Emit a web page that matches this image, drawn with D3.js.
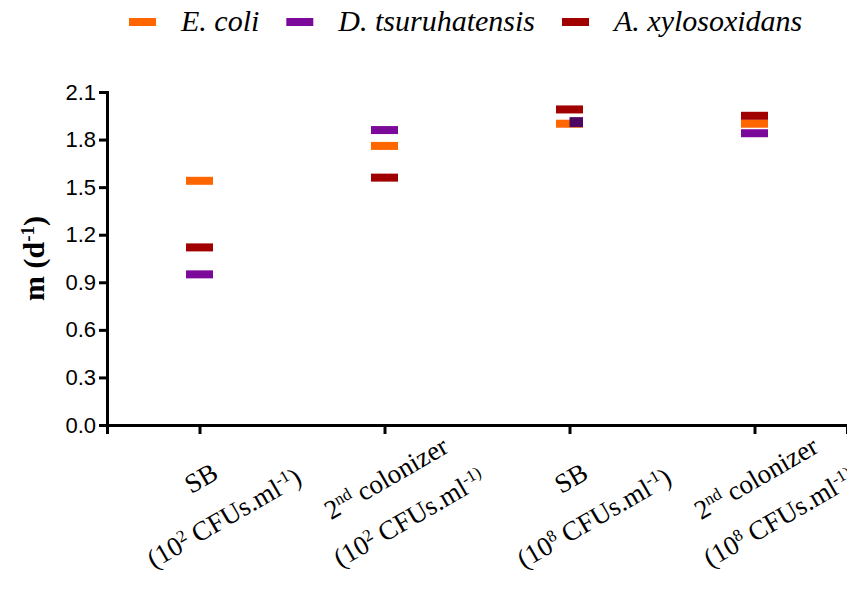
<!DOCTYPE html>
<html>
<head>
<meta charset="utf-8">
<script src="https://cdn.jsdelivr.net/npm/d3@7"></script>
<style>
  body { margin: 0; background: #fff; }
  svg { display: block; }
</style>
</head>
<body>
<div id="chart"></div>
<script>
// groups on the x axis: [line1 parts, line2 parts], each part [text, isSuperscript]
const groups = [
    [[["SB", false]], [["(10", false], ["2", true], [" CFUs.ml", false], ["-1", true], [")", false]]],
    [[["2", false], ["nd", true], [" colonizer", false]], [["(10", false], ["2", true], [" CFUs.ml", false], ["-1)", true]]],
    [[["SB", false]], [["(10", false], ["8", true], [" CFUs.ml", false], ["-1", true], [")", false]]],
    [[["2", false], ["nd", true], [" colonizer", false]], [["(10", false], ["8", true], [" CFUs.ml", false], ["-1)", true]]]
]
const seriesNames = ["E. coli", "D. tsuruhatensis", "A. xylosoxidans"]
const seriesColors = ["#ff6600", "#7b0a9b", "#a00000"]
const ecoli = [1.54, 1.76, 1.90, 1.90]
const dtsur = [0.95, 1.86, 1.91, 1.84]
const axylo = [1.12, 1.56, 1.99, 1.95]
const yTicks = [0, 0.3, 0.6, 0.9, 1.2, 1.5, 1.8, 2.1]

const allSeries = [ecoli, dtsur, axylo]

const width = 847, height = 590
const plot = {left: 107, right: 847, top: 92, bottom: 425}

const svg = d3.select('#chart').append('svg')
    .attr('width', width)
    .attr('height', height)

const x = d3.scalePoint()
    .domain(d3.range(groups.length))
    .range([plot.left, plot.right])
    .padding(0.5)

const y = d3.scaleLinear()
    .domain([0, 2.1])
    .range([plot.bottom, plot.top])

// y axis
const yAxis = svg.append('g')
    .attr('transform', `translate(${plot.left},0)`)
    .call(d3.axisLeft(y).tickValues(yTicks).tickFormat(d3.format('.1f')).tickSizeOuter(0).tickSize(8).tickPadding(3))
yAxis.select('.domain').attr('stroke', '#000').attr('stroke-width', 3)
yAxis.selectAll('.tick line').attr('stroke', '#000').attr('stroke-width', 3)
yAxis.selectAll('.tick text')
    .attr('fill', '#000')
    .style('font-family', '"Liberation Sans", Arial, sans-serif')
    .style('font-size', '22px')

// x axis
const xAxis = svg.append('g')
    .attr('transform', `translate(0,${plot.bottom})`)
    .call(d3.axisBottom(x).tickSizeOuter(0).tickSize(9).tickFormat(''))
xAxis.select('.domain').attr('stroke', '#000').attr('stroke-width', 3)
xAxis.selectAll('.tick line').attr('stroke', '#000').attr('stroke-width', 3)

// x labels, two centred lines rotated
const lineGap = 46
groups.forEach(function (g, i) {
    const lg = svg.append('g')
        .attr('transform', `translate(${x(i) + 13},${plot.bottom + 73}) rotate(-30)`)
    g.forEach(function (line, j) {
        const t = lg.append('text')
            .attr('x', 0)
            .attr('y', j === 0 ? -lineGap / 2 + 9 : lineGap / 2 + 9)
            .attr('text-anchor', 'middle')
            .style('font-family', '"Liberation Serif", "Times New Roman", serif')
            .style('font-size', '27px')
        line.forEach(function (p) {
            const s = t.append('tspan').text(p[0])
            if (p[1]) {
                s.attr('baseline-shift', 'super').style('font-size', '17px')
            }
        })
    })
})

// y title
svg.append('text')
    .attr('transform', `translate(44,${(plot.top + plot.bottom) / 2}) rotate(-90)`)
    .attr('text-anchor', 'middle')
    .style('font-family', '"Liberation Serif", "Times New Roman", serif')
    .style('font-size', '30px')
    .style('font-weight', 'bold')
    .call(function (t) {
        t.append('tspan').text('m (d')
        t.append('tspan').text('-1').attr('baseline-shift', 'super').style('font-size', '19px')
        t.append('tspan').text(')')
    })

// marks
const markW = 27, markH = 8
const drawn = []
allSeries.forEach(function (vals, s) {
    vals.forEach(function (v, i) {
        const cy = y(v)
        // overlapping with an earlier mark -> GraphPad style half offset, darker
        const clash = drawn.some(d => d.i === i && Math.abs(d.cy - cy) < markH / 2)
        svg.append('rect')
            .attr('x', clash ? x(i) : x(i) - markW / 2)
            .attr('y', clash ? cy - markH / 2 - 1 : cy - markH / 2)
            .attr('width', clash ? markW / 2 : markW)
            .attr('height', clash ? markH + 2 : markH)
            .attr('fill', clash ? d3.color(seriesColors[s]).darker(1.3) : seriesColors[s])
        drawn.push({i: i, cy: cy})
    })
})

// legend
const legend = svg.append('g')
let lx = 129
seriesNames.forEach(function (name, s) {
    legend.append('rect')
        .attr('x', lx)
        .attr('y', 18)
        .attr('width', markW)
        .attr('height', markH)
        .attr('fill', seriesColors[s])
    const t = legend.append('text')
        .attr('x', lx + 52)
        .attr('y', 31)
        .style('font-family', '"Liberation Serif", "Times New Roman", serif')
        .style('font-style', 'italic')
        .style('font-size', '30px')
        .text(name)
    lx = lx + 52 + t.node().getComputedTextLength() + 27
})
</script>
</body>
</html>
